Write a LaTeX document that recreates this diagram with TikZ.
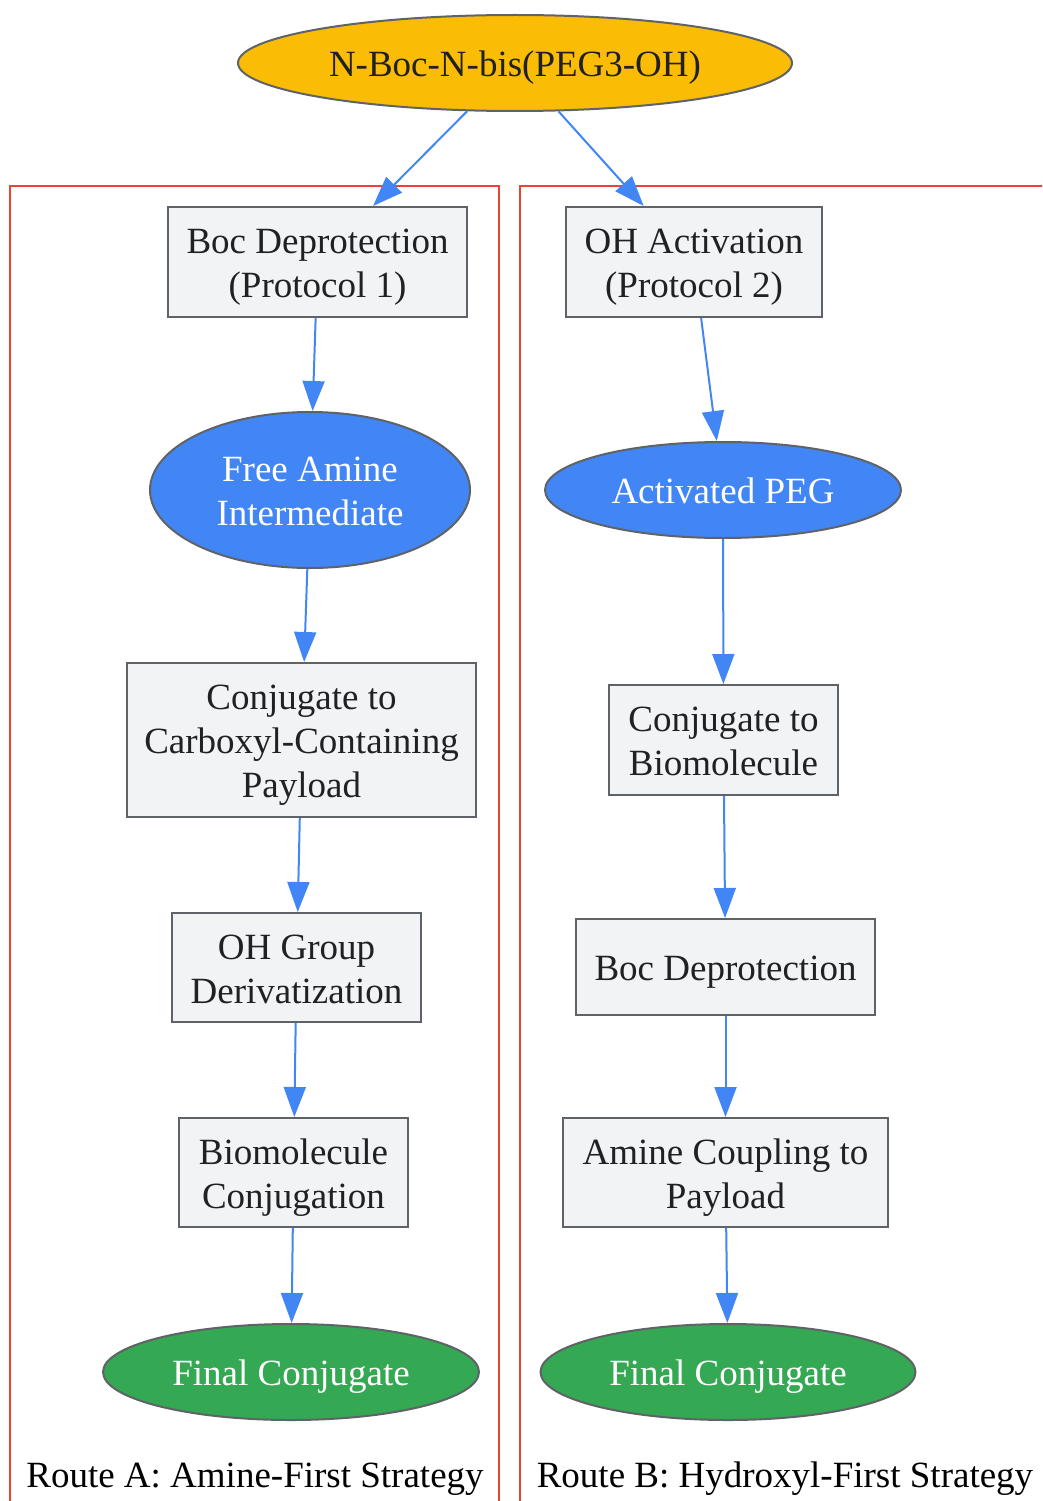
\documentclass[tikz,border=0pt]{standalone}
\usepackage{fontspec}
\setmainfont{Liberation Serif}
\usetikzlibrary{shapes.geometric,arrows.meta}
\definecolor{gblue}{HTML}{4285F4}
\definecolor{ggreen}{HTML}{34A853}
\definecolor{gyellow}{HTML}{FBBC05}
\definecolor{ggrayfill}{HTML}{F1F3F4}
\definecolor{gstroke}{HTML}{5F6368}
\definecolor{gred}{HTML}{EA4335}
\definecolor{gtext}{HTML}{202124}
\newcommand\lbl[1]{\raisebox{-5pt}[\height][\depth]{\begin{tabular}{@{}c@{}}#1\end{tabular}}}
\tikzset{
  base/.style={draw=gstroke, line width=2pt, inner sep=0pt,
    font=\fontsize{37}{44}\selectfont, text=gtext},
  procbox/.style={base, rectangle, fill=ggrayfill},
  startnode/.style={base, ellipse, fill=gyellow},
  bluenode/.style={base, ellipse, fill=gblue, text=white},
  greennode/.style={base, ellipse, fill=ggreen, text=white},
  cluster/.style={draw=gred, line width=2pt},
  clusterlabel/.style={font=\fontsize{37}{44}\selectfont, text=black, inner sep=0pt},
  flow/.style={draw=gblue, line width=2pt, -{Triangle[length=30pt,width=22pt]}}
}
\begin{document}
\begin{tikzpicture}[x=1pt,y=-1pt]
\useasboundingbox (0,0) rectangle (1042,1501);
\begin{scope}
\clip (0,0) rectangle (1042,1501);
\draw[cluster] (10,1510) -- (10,186) -- (499,186) -- (499,1510);
\draw[cluster] (520,1510) -- (520,186) -- (1050,186);
\end{scope}

\node[startnode, minimum width=554pt, minimum height=96pt] (top) at (515,63) {\lbl{N-Boc-N-bis(PEG3-OH)}};

% Route A
\node[procbox, minimum width=299pt, minimum height=110pt] (a1) at (317.5,262) {\lbl{Boc Deprotection\\(Protocol 1)}};
\node[bluenode, minimum width=320pt, minimum height=156pt] (a2) at (310,490) {\lbl{Free Amine\\Intermediate}};
\node[procbox, minimum width=349pt, minimum height=154pt] (a3) at (301.5,740) {\lbl{Conjugate to\\Carboxyl-Containing\\Payload}};
\node[procbox, minimum width=249pt, minimum height=109pt] (a4) at (296.5,967.5) {\lbl{OH Group\\Derivatization}};
\node[procbox, minimum width=229pt, minimum height=109pt] (a5) at (293.5,1172.5) {\lbl{Biomolecule\\Conjugation}};
\node[greennode, minimum width=376pt, minimum height=96pt] (a6) at (291,1372) {\lbl{Final Conjugate}};
\node[clusterlabel] (la) at (255,1479) {Route A: Amine-First Strategy};

% Route B
\node[procbox, minimum width=256pt, minimum height=110pt] (b1) at (694,262) {\lbl{OH Activation\\(Protocol 2)}};
\node[bluenode, minimum width=356pt, minimum height=96pt] (b2) at (723,490) {\lbl{Activated PEG}};
\node[procbox, minimum width=229pt, minimum height=110pt] (b3) at (723.5,740) {\lbl{Conjugate to\\Biomolecule}};
\node[procbox, minimum width=299pt, minimum height=96pt] (b4) at (725.5,967) {\lbl{Boc Deprotection}};
\node[procbox, minimum width=325pt, minimum height=109pt] (b5) at (725.5,1172.5) {\lbl{Amine Coupling to\\Payload}};
\node[greennode, minimum width=375pt, minimum height=96pt] (b6) at (728,1372) {\lbl{Final Conjugate}};
\node[clusterlabel] (lb) at (785,1479) {Route B: Hydroxyl-First Strategy};

\draw[flow] (top) -- (a1);
\draw[flow] (top) -- (b1);
\draw[flow] (a1) -- (a2);
\draw[flow] (a2) -- (a3);
\draw[flow] (a3) -- (a4);
\draw[flow] (a4) -- (a5);
\draw[flow] (a5) -- (a6);
\draw[flow] (b1) -- (b2);
\draw[flow] (b2) -- (b3);
\draw[flow] (b3) -- (b4);
\draw[flow] (b4) -- (b5);
\draw[flow] (b5) -- (b6);
\end{tikzpicture}
\end{document}
